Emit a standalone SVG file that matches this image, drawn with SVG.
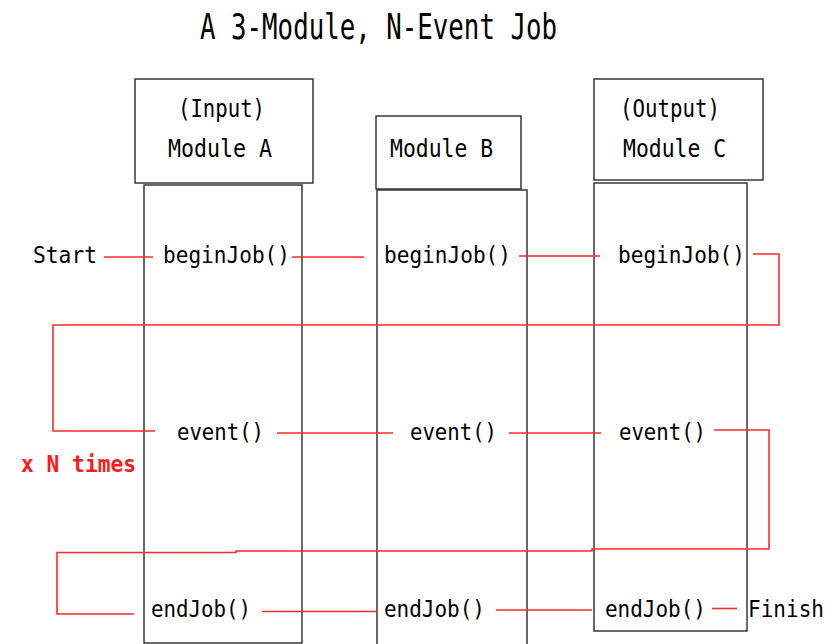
<svg xmlns="http://www.w3.org/2000/svg" width="839" height="644" viewBox="0 0 839 644">
  <style>
    .box { fill: #ffffff; stroke: #2a2a2a; stroke-width: 1.4; }
    .title { font-family: "DejaVu Sans Mono", "Liberation Mono", monospace; font-size: 36px; fill: #000; }
    .head { font-family: "DejaVu Sans Mono", "Liberation Mono", monospace; font-size: 24px; fill: #000; }
    .call { font-family: "DejaVu Sans Mono", "Liberation Mono", monospace; font-size: 23px; fill: #000; }
    .loop { font-family: "DejaVu Sans Mono", "Liberation Mono", monospace; font-size: 23px; font-weight: bold; fill: #ff1a1a; }
    .flow { fill: none; stroke: #ff2a2a; stroke-width: 1.6; }
  </style>
  <rect width="839" height="644" fill="#ffffff"/>

  <text class="title" x="200" y="39" textLength="357" lengthAdjust="spacingAndGlyphs">A 3-Module, N-Event Job</text>

  <!-- Module A: input module with lifeline -->
  <g id="moduleA">
    <rect class="box" x="144" y="185" width="158" height="458"/>
    <rect class="box" x="135" y="79" width="178" height="104"/>
    <text class="head" x="178" y="117" textLength="87" lengthAdjust="spacingAndGlyphs">(Input)</text>
    <text class="head" x="168" y="157" textLength="104" lengthAdjust="spacingAndGlyphs">Module A</text>
  </g>

  <!-- Module B: lifeline runs past the bottom edge -->
  <g id="moduleB">
    <rect class="box" x="377" y="190" width="150" height="470"/>
    <rect class="box" x="376" y="116" width="145" height="73"/>
    <text class="head" x="390" y="157" textLength="103" lengthAdjust="spacingAndGlyphs">Module B</text>
  </g>

  <!-- Module C: output module with lifeline -->
  <g id="moduleC">
    <rect class="box" x="594" y="183" width="153" height="448"/>
    <rect class="box" x="594" y="79" width="169" height="101"/>
    <text class="head" x="620" y="117" textLength="100" lengthAdjust="spacingAndGlyphs">(Output)</text>
    <text class="head" x="623" y="157" textLength="103" lengthAdjust="spacingAndGlyphs">Module C</text>
  </g>

  <!-- method calls on each lifeline -->
  <g id="calls">
    <text class="call" x="33" y="263" textLength="64" lengthAdjust="spacingAndGlyphs">Start</text>
    <text class="call" x="163" y="263" textLength="127" lengthAdjust="spacingAndGlyphs">beginJob()</text>
    <text class="call" x="384" y="263" textLength="127" lengthAdjust="spacingAndGlyphs">beginJob()</text>
    <text class="call" x="618" y="263" textLength="127" lengthAdjust="spacingAndGlyphs">beginJob()</text>

    <text class="call" x="177" y="440" textLength="87" lengthAdjust="spacingAndGlyphs">event()</text>
    <text class="call" x="410" y="440" textLength="87" lengthAdjust="spacingAndGlyphs">event()</text>
    <text class="call" x="619" y="440" textLength="87" lengthAdjust="spacingAndGlyphs">event()</text>

    <text class="call" x="151" y="617" textLength="100" lengthAdjust="spacingAndGlyphs">endJob()</text>
    <text class="call" x="384" y="617" textLength="101" lengthAdjust="spacingAndGlyphs">endJob()</text>
    <text class="call" x="605" y="617" textLength="101" lengthAdjust="spacingAndGlyphs">endJob()</text>
    <text class="call" x="748" y="617" textLength="76" lengthAdjust="spacingAndGlyphs">Finish</text>

    <text class="loop" x="21" y="472" textLength="115" lengthAdjust="spacingAndGlyphs">x N times</text>
  </g>

  <!-- control flow between the calls -->
  <g id="connectors">
    <line class="flow" x1="104" y1="257" x2="153" y2="257"/>
    <line class="flow" x1="292" y1="257" x2="364" y2="257"/>
    <line class="flow" x1="519" y1="256" x2="600" y2="256"/>
    <polyline class="flow" points="753,254 779,254 779,325 53,325 53,431 155,431"/>

    <line class="flow" x1="277" y1="433" x2="393" y2="433"/>
    <line class="flow" x1="509" y1="433" x2="601" y2="433"/>
    <polyline class="flow" points="714,430 769,430 769,549 592,549 592,551 236,551 236,552.5 57,552.5 57,614 134,614"/>

    <line class="flow" x1="262" y1="611.5" x2="377" y2="611.5"/>
    <line class="flow" x1="496" y1="610" x2="592" y2="610"/>
    <line class="flow" x1="712" y1="608.5" x2="737" y2="608.5"/>
  </g>
</svg>
